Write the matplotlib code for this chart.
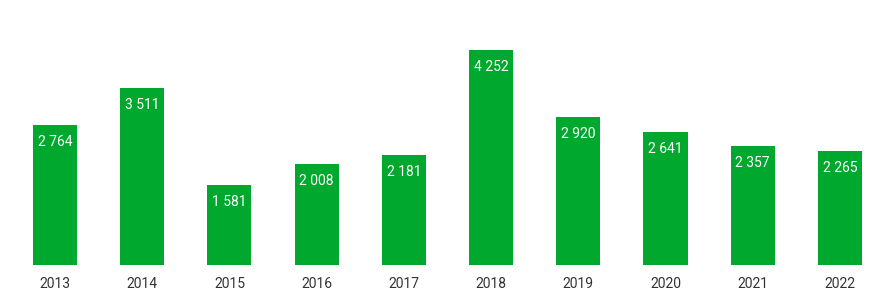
import matplotlib
matplotlib.use("Agg")
import matplotlib.pyplot as plt

years = ["2013", "2014", "2015", "2016", "2017", "2018", "2019", "2020", "2021", "2022"]
values = [2764, 3511, 1581, 2008, 2181, 4252, 2920, 2641, 2357, 2265]

GREEN = "#00a82d"
plt.rcParams["font.family"] = ["Roboto", "DejaVu Sans"]

fig = plt.figure(figsize=(8.96, 2.99), dpi=100)
ax = fig.add_axes([0.0127, 0.1137, 0.9734, 0.886])
x = range(len(years))
ax.bar(x, values, width=0.505, color=GREEN)
ax.set_xlim(-0.5, len(years) - 0.5)
ax.set_ylim(0, 5241)

for xi, v in zip(x, values):
    lbl = f"{v:,}".replace(",", " ")
    ax.annotate(lbl, (xi, v), xytext=(0, -17), textcoords="offset pixels",
                ha="center", va="center", color="white", fontsize=10)
    ax.annotate(years[xi], (xi, 0), xytext=(0, -19), textcoords="offset pixels",
                ha="center", va="center", color="#333333", fontsize=10,
                annotation_clip=False)

ax.axis("off")
fig.savefig("out.png", dpi=100)
